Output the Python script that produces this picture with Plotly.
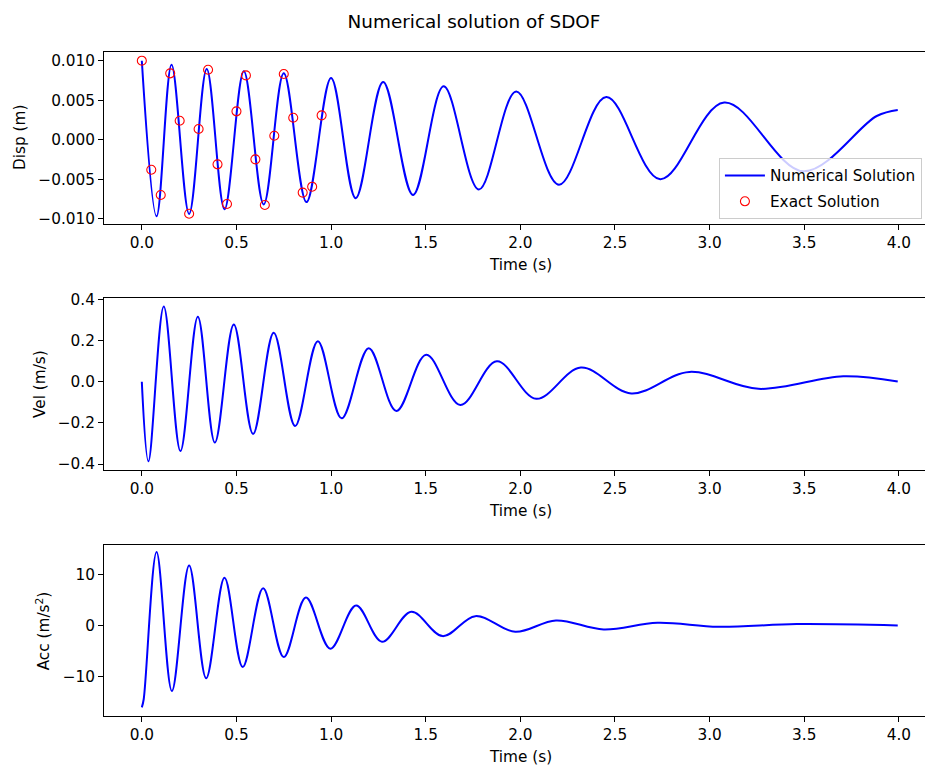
import plotly.graph_objects as go

# ---------------- data (extrema) ----------------
t_disp = [0.000, 0.078, 0.157, 0.250, 0.343, 0.437, 0.539, 0.644, 0.750, 0.870,
          1.000, 1.130, 1.275, 1.433, 1.595, 1.781, 1.978, 2.204, 2.454, 2.739,
          3.077, 3.496, 3.883, 3.994]
disp = [0.0100, -0.0097, 0.0095, -0.0094, 0.00895, -0.0088, 0.00865, -0.0082, 0.0084, -0.0079,
        0.0078, -0.0074, 0.0073, -0.0070, 0.00675, -0.0063, 0.0061, -0.0057, 0.0054, -0.0050,
        0.0047, -0.0040, 0.0030, 0.00376]

t_exact = [0.00, 0.05, 0.10, 0.15, 0.20, 0.25, 0.30, 0.35, 0.40, 0.45,
           0.50, 0.55, 0.60, 0.65, 0.70, 0.75, 0.80, 0.85, 0.90, 0.95]
exact = [0.0100, -0.0038, -0.0070, 0.0084, 0.0024, -0.00937, 0.00135, 0.00886, -0.00312, -0.00814,
         0.00359, 0.00814, -0.00249, -0.00827, 0.0005, 0.00831, 0.00278, -0.0067, -0.00595, 0.00308]

t_vel = [0.000, 0.035, 0.116, 0.204, 0.296, 0.386, 0.486, 0.588, 0.697, 0.810,
         0.930, 1.056, 1.199, 1.345, 1.503, 1.683, 1.876, 2.084, 2.320, 2.586,
         2.893, 3.258, 3.706, 3.994]
vel = [0.0, -0.387, 0.365, -0.337, 0.316, -0.296, 0.278, -0.254, 0.238, -0.215,
       0.197, -0.178, 0.163, -0.1425, 0.131, -0.1135, 0.099, -0.083, 0.0686, -0.057,
       0.0475, -0.0348, 0.0266, 0.001]

t_acc = [0.000, 0.010, 0.078, 0.159, 0.250, 0.340, 0.437, 0.533, 0.641, 0.750,
         0.867, 0.996, 1.132, 1.269, 1.424, 1.589, 1.762, 1.973, 2.188, 2.440,
         2.724, 3.046, 3.460, 3.994]
acc = [-16.0, -14.4, 14.4, -12.8, 11.76, -10.3, 9.36, -8.1, 7.33, -6.15,
       5.5, -4.52, 3.95, -3.15, 2.71, -2.05, 1.86, -1.2, 1.02, -0.74,
       0.56, -0.22, 0.30, 0.04]

x_ticks = [0.0, 0.5, 1.0, 1.5, 2.0, 2.5, 3.0, 3.5, 4.0]
x_tick_text = ["0.0", "0.5", "1.0", "1.5", "2.0", "2.5", "3.0", "3.5", "4.0"]
disp_ticks = [-0.010, -0.005, 0.0, 0.005, 0.010]
disp_tick_text = ["\u22120.010", "\u22120.005", "0.000", "0.005", "0.010"]
vel_ticks = [-0.4, -0.2, 0.0, 0.2, 0.4]
vel_tick_text = ["\u22120.4", "\u22120.2", "0.0", "0.2", "0.4"]
acc_ticks = [-10, 0, 10]
acc_tick_text = ["\u221210", "0", "10"]

# ---------------- figure ----------------
FONT = "DejaVu Sans"
BLUE = "#0000ff"
FS = 15.3
SMOOTH = 1.0

fig = go.Figure()
fig.add_trace(go.Scatter(x=t_disp, y=disp, mode="lines", name="Numerical Solution",
                         line=dict(color=BLUE, width=2, shape="spline", smoothing=SMOOTH),
                         xaxis="x", yaxis="y", legendgroup="a"))
fig.add_trace(go.Scatter(x=t_exact, y=exact, mode="markers", name="Exact Solution",
                         marker=dict(symbol="circle-open", color="#ff0000", size=9,
                                     line=dict(width=1.1, color="#ff0000")),
                         xaxis="x", yaxis="y", legendgroup="b"))
fig.add_trace(go.Scatter(x=t_vel, y=vel, mode="lines", showlegend=False,
                         line=dict(color=BLUE, width=2, shape="spline", smoothing=SMOOTH),
                         xaxis="x2", yaxis="y2"))
fig.add_trace(go.Scatter(x=t_acc, y=acc, mode="lines", showlegend=False,
                         line=dict(color=BLUE, width=2, shape="spline", smoothing=SMOOTH),
                         xaxis="x3", yaxis="y3"))

def xax(anchor):
    return dict(domain=[0, 1], anchor=anchor, range=[-0.1998, 4.138],
                tickmode="array", tickvals=x_ticks, ticktext=x_tick_text,
                showline=True, linecolor="black", linewidth=1, mirror=True,
                ticks="outside", ticklen=5, tickwidth=1, tickcolor="black",
                showgrid=False, zeroline=False,
                tickfont=dict(family=FONT, size=FS, color="black"))

def yax(anchor, dom, rng, tv, tt):
    return dict(domain=dom, anchor=anchor, range=rng,
                tickmode="array", tickvals=tv, ticktext=tt,
                showline=True, linecolor="black", linewidth=1, mirror=False,
                ticks="outside", ticklen=5, tickwidth=1, tickcolor="black",
                showgrid=False, zeroline=False,
                tickfont=dict(family=FONT, size=FS, color="black"))

ann_font = dict(family=FONT, size=FS, color="black")
annotations = []
for yy in [0.679, 0.3087, -0.0617]:
    annotations.append(dict(text="Time (s)", x=0.5067, y=yy, xref="paper", yref="paper",
                            showarrow=False, xanchor="center", yanchor="middle", font=ann_font))
for txt, xx, yy in [("Disp (m)", -0.1023, 0.8705),
                    ("Vel (m/s)", -0.078, 0.50),
                    ("Acc (m/s<sup>2</sup>)", -0.0743, 0.129)]:
    annotations.append(dict(text=txt, x=xx, y=yy, xref="paper", yref="paper", textangle=-90,
                            showarrow=False, xanchor="center", yanchor="middle", font=ann_font))

fig.update_layout(
    width=925, height=765,
    margin=dict(l=104, r=0, t=52, b=49),
    paper_bgcolor="white", plot_bgcolor="white",
    font=dict(family=FONT, size=FS, color="black"),
    title=dict(text="Numerical solution of SDOF", x=0.5124, y=1 - 22 / 765,
               xanchor="center", yanchor="middle",
               font=dict(family=FONT, size=18.4, color="black")),
    xaxis=xax("y"), yaxis=yax("x", [0.741, 1.0], [-0.01067, 0.0111], disp_ticks, disp_tick_text),
    xaxis2=xax("y2"), yaxis2=yax("x2", [0.3705, 0.6295], [-0.429, 0.4065], vel_ticks, vel_tick_text),
    xaxis3=xax("y3"), yaxis3=yax("x3", [0.0, 0.258], [-17.68, 15.84], acc_ticks, acc_tick_text),
    legend=dict(x=0.749, y=0.8404, xanchor="left", yanchor="top",
                bgcolor="rgba(255,255,255,0.8)", bordercolor="#cccccc", borderwidth=1,
                font=dict(family=FONT, size=FS, color="black"),
                itemwidth=40, traceorder="grouped", tracegroupgap=3),
    annotations=annotations,
    showlegend=True,
)

fig.write_html("out.html")
